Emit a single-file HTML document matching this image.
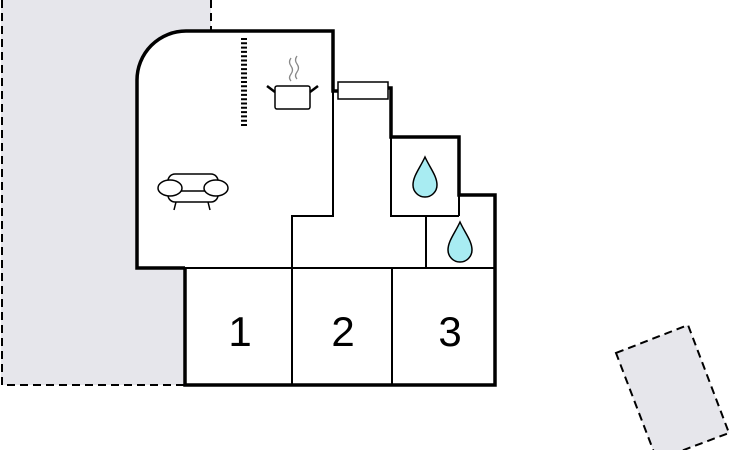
<!DOCTYPE html>
<html><head><meta charset="utf-8"><style>
html,body{margin:0;padding:0;background:#fff;}
svg{display:block;}
</style></head><body>
<svg width="730" height="450" viewBox="0 0 730 450" xmlns="http://www.w3.org/2000/svg">
<rect x="1" y="-2" width="210" height="387" fill="#e6e6eb"/>
<path d="M2,0 V385 H185" fill="none" stroke="#000" stroke-width="2" stroke-dasharray="8,5"/>
<path d="M211,0 V31" fill="none" stroke="#000" stroke-width="2" stroke-dasharray="8,5"/>
<polygon points="616,353 688,325 729,433 657,460" fill="#e6e6eb" stroke="#000" stroke-width="2" stroke-dasharray="8,5"/>
<path d="M137,268 V80 A49,49 0 0 1 186,31 H333 V91 H390 V137 H459 V195 H495 V385 H185 V268 Z" fill="#fff"/>
<g stroke="#000" stroke-width="2" fill="none">
<path d="M333,91 V216 H292 V385"/>
<path d="M185,268 H495"/>
<path d="M392,268 V385"/>
<path d="M391,137 V216 H459"/>
<path d="M426,216 V268"/>
<path d="M459,195 V216"/>
</g>
<path d="M185,268 H137 V80 A49,49 0 0 1 186,31 H333 V91 H338" fill="none" stroke="#000" stroke-width="3.5"/>
<path d="M388,88 H391 V137 H459 V195 H495 V385 H185 V268" fill="none" stroke="#000" stroke-width="3.5"/>
<rect x="338" y="82" width="50" height="17" fill="#fff" stroke="#000" stroke-width="1.5"/>
<line x1="244" y1="38" x2="244" y2="128" stroke="#000" stroke-width="6" stroke-dasharray="2,2.3"/>
<g fill="none" stroke="#000" stroke-width="1.5">
<rect x="275" y="86" width="35" height="23" rx="2" fill="#fff"/>
<path d="M275,92 L267,86 M310,92 L318,86" stroke-width="2.5"/>
<path d="M291,58 q-3,4 0,8 q3,4 0,8 q-3,4 0,7 M297,56 q-3,4 0,8 q3,4 0,8 q-3,4 0,7" stroke="#888" stroke-width="1.3"/>
</g>
<g fill="#fff" stroke="#000" stroke-width="1.5">
<path d="M176,202 L174,210 M208,202 L210,210"/>
<rect x="168" y="174" width="50" height="28" rx="7"/>
<line x1="172" y1="191" x2="214" y2="191"/>
<ellipse cx="170" cy="188" rx="12" ry="8"/>
<ellipse cx="216" cy="188" rx="12" ry="8"/>
</g>
<g fill="#a8ecf2" stroke="#000" stroke-width="1.5">
<path d="M425,157 C420,168 413,176 413,185 A12,12 0 0 0 437,185 C437,176 430,168 425,157 Z"/>
<path d="M460,222 C455,233 448,241 448,250 A12,12 0 0 0 472,250 C472,241 465,233 460,222 Z"/>
</g>
<g font-family="Liberation Sans, sans-serif" font-size="42" text-anchor="middle" fill="#000">
<text x="240" y="346">1</text>
<text x="343" y="346">2</text>
<text x="450" y="346">3</text>
</g>
</svg>
</body></html>
